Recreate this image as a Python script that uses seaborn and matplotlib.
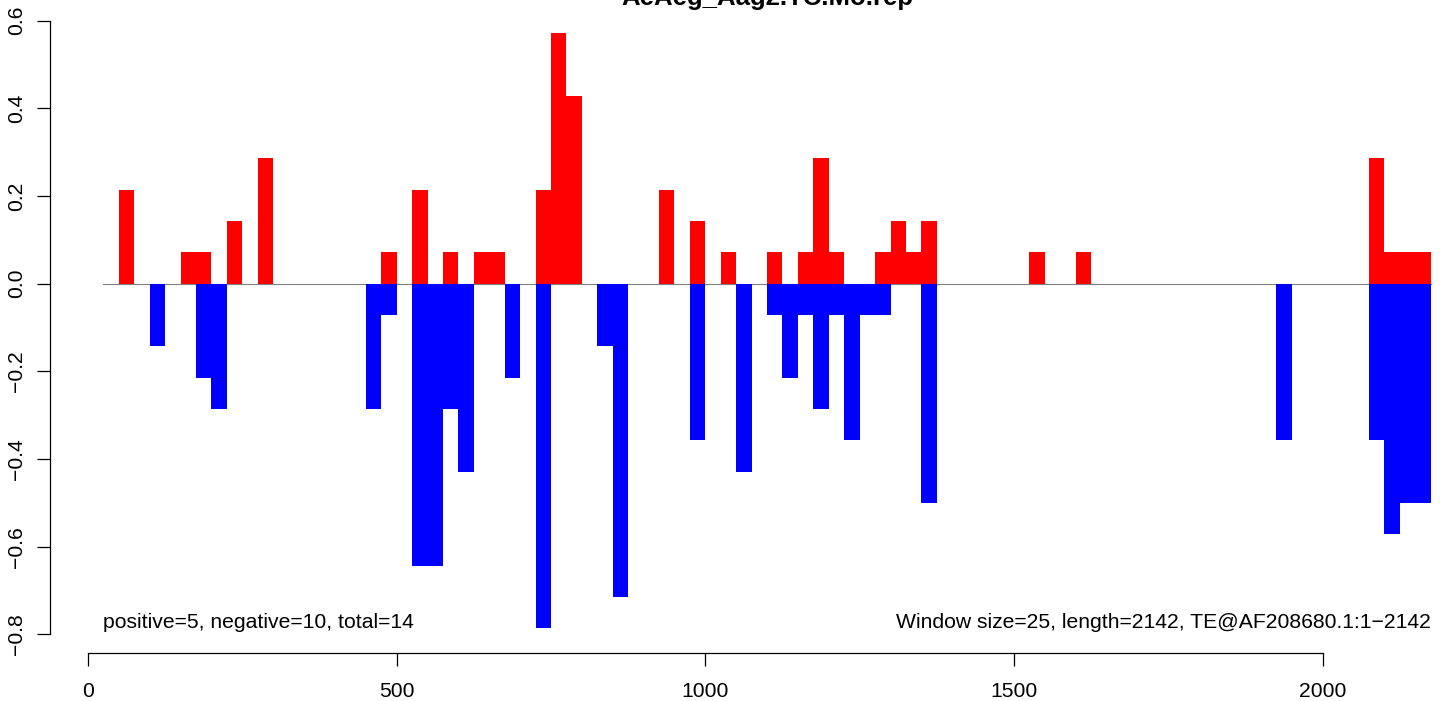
import pandas as pd
import matplotlib
matplotlib.use('Agg')
import matplotlib.pyplot as plt
import seaborn as sns

# window data (window size 25, 14 sequences in total)
title = 'AeAeg_Aag2.TC.Mo.rep'
window_size = 25
total_seqs = 14
pos_start = [50, 150, 175, 225, 275, 475, 525, 575, 625, 650, 725, 750, 775, 925, 975,
             1025, 1100, 1150, 1175, 1200, 1275, 1300, 1325, 1350, 1525, 1600,
             2075, 2100, 2125, 2150]
pos_counts = [3, 1, 1, 2, 4, 1, 3, 1, 1, 1, 3, 8, 6, 3, 2,
              1, 1, 1, 4, 1, 1, 2, 1, 2, 1, 1,
              4, 1, 1, 1]
neg_start = [100, 175, 200, 450, 475, 525, 550, 575, 600, 675, 725, 825, 850, 975,
             1050, 1100, 1125, 1150, 1175, 1200, 1225, 1250, 1275, 1350, 1925,
             2075, 2100, 2125, 2150]
neg_counts = [2, 3, 4, 4, 1, 9, 9, 4, 6, 3, 11, 2, 10, 5,
              6, 1, 3, 1, 4, 1, 5, 1, 1, 7, 5,
              5, 8, 7, 7]
x_ticks = [0, 500, 1000, 1500, 2000]
y_ticks = [-0.8, -0.6, -0.4, -0.2, 0.0, 0.2, 0.4, 0.6]
y_labels = ['\u22120.8', '\u22120.6', '\u22120.4', '\u22120.2', '0.0', '0.2', '0.4', '0.6']
left_note = 'positive=5, negative=10, total=14'
right_note = 'Window size=25, length=2142, TE@AF208680.1:1\u22122142'
seq_start, seq_end = 25, 2175

# long-form table: one row per bar
df = pd.concat([
    pd.DataFrame({'center': [s + window_size / 2 for s in pos_start],
                  'value': [c / total_seqs for c in pos_counts],
                  'strand': 'positive'}),
    pd.DataFrame({'center': [s + window_size / 2 for s in neg_start],
                  'value': [-c / total_seqs for c in neg_counts],
                  'strand': 'negative'}),
], ignore_index=True)

plt.rcParams['font.family'] = ['Liberation Sans', 'DejaVu Sans']
plt.rcParams['font.size'] = 15.25

W, H = 1441, 701
fig = plt.figure(figsize=(W / 100, H / 100), dpi=100)
# plot region runs past the right/top edge of the image, as in the reference crop
left_px, right_px, top_px, bottom_px = 50.3, 1483.8, 9.5, 653.3
ax = fig.add_axes([left_px / W, 1 - bottom_px / H,
                   (right_px - left_px) / W, (bottom_px - top_px) / H])

ax.plot([seq_start, seq_end], [0, 0], color='#808080', lw=0.8, zorder=0.5)
sns.barplot(data=df, x='center', y='value', hue='strand',
            palette={'positive': '#FF0000', 'negative': '#0000FF'},
            native_scale=True, dodge=False, width=1, saturation=1,
            errorbar=None, linewidth=0, legend=False, ax=ax)

ax.set_xlim(-61, 2261)
ax.set_ylim(-0.843, 0.6256)
ax.set_xlabel('')
ax.set_ylabel('')
ax.set_xticks(x_ticks)
ax.set_xticklabels([str(t) for t in x_ticks])
ax.set_yticks(y_ticks)
ax.set_yticklabels(y_labels, rotation=90, va='center')
ax.tick_params(axis='both', length=9.6, width=0.9, labelsize=15.25)
ax.tick_params(axis='x', pad=11)
ax.tick_params(axis='y', pad=8)
sns.despine(ax=ax, trim=True)
for side in ['left', 'bottom']:
    ax.spines[side].set_linewidth(0.9)

ax.text(seq_start, -11 / 14, left_note, ha='left', va='baseline', fontsize=15.25)
ax.text(seq_end, -11 / 14, right_note, ha='right', va='baseline', fontsize=15.25)
ax.set_title(title, fontsize=18.5, fontweight='bold', pad=1.8)

fig.savefig('out.png', dpi=100)
